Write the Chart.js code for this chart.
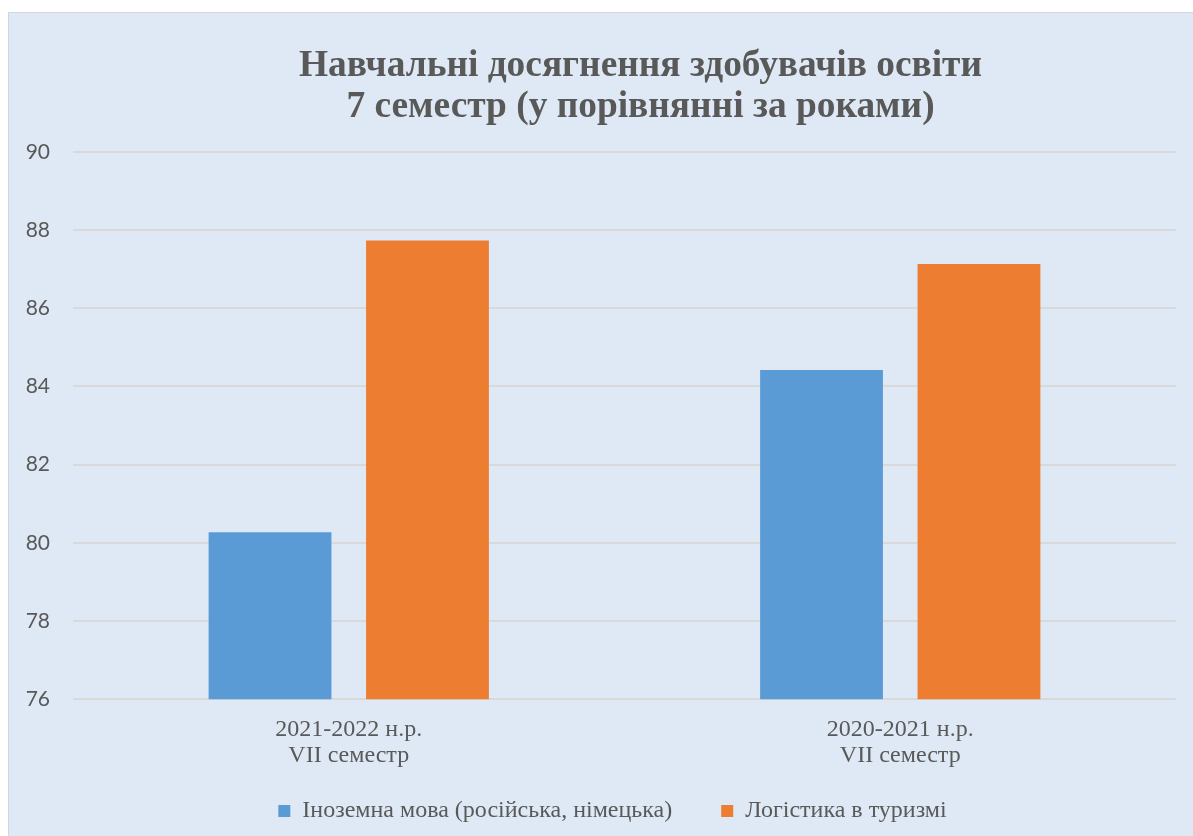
<!DOCTYPE html>
<html>
<head>
<meta charset="utf-8">
<script src="https://cdn.jsdelivr.net/npm/chart.js@4.4.1/dist/chart.umd.min.js"></script>
<style>
  html, body { margin: 0; padding: 0; background: #ffffff; overflow: hidden; }
  #panel {
    position: absolute; left: 8px; top: 12px; width: 1200px; height: 840px;
    background: #dee9f5; border: 1.5px solid #d6d6d6; box-sizing: border-box;
  }
  #wrap { position: absolute; left: 0; top: 0; width: 1193px; height: 836px; }
</style>
</head>
<body>
<div id="panel"></div>
<div id="wrap"><canvas id="myChart" width="1193" height="836"></canvas></div>
<script>
// chart data
const categories = [
  ['2021-2022 н.р.', 'VII семестр'],
  ['2020-2021 н.р.', 'VII семестр']
];
const foreignLang = [80.27, 84.42];
const logistics = [87.73, 87.13];
const seriesNames = ['Іноземна мова (російська, німецька)', 'Логістика в туризмі'];
const yTicks = [76, 78, 80, 82, 84, 86, 88, 90];

const textColor = '#595959';
const serif = '"Liberation Serif", "Times New Roman", serif';

// move title/legend a bit, like the Excel layout
const nudge = {
  id: 'nudge',
  afterLayout(chart) {
    const t = chart.titleBlock;
    t.left += 40; t.right += 40;
    const l = chart.legend;
    l.left += 12; l.right += 12;
    l.top -= 36; l.bottom -= 36;
  }
};

const ctx = document.getElementById('myChart').getContext('2d');
new Chart(ctx, {
  type: 'bar',
  data: {
    labels: categories,
    datasets: [
      { label: seriesNames[0], data: foreignLang, backgroundColor: '#5b9bd5' },
      { label: seriesNames[1], data: logistics, backgroundColor: '#ed7d31' }
    ]
  },
  options: {
    responsive: false,
    animation: false,
    categoryPercentage: 0.571,
    barPercentage: 0.78,
    layout: { padding: { left: 25, right: 17, top: 12, bottom: -33 } },
    scales: {
      x: {
        grid: { display: false, drawTicks: false },
        border: { display: false },
        ticks: {
          color: textColor,
          padding: 17,
          font: { family: serif, size: 24, lineHeight: 1.1 }
        }
      },
      y: {
        min: 76,
        max: 90,
        afterBuildTicks: s => { s.ticks = yTicks.map(v => ({ value: v })); },
        afterFit: s => { s.width = 48; },
        grid: { color: '#d9d9d9', lineWidth: 2, drawTicks: false },
        border: { display: false },
        ticks: {
          color: textColor,
          padding: 23,
          font: { family: 'Lato, Calibri, sans-serif', size: 21 }
        }
      }
    },
    plugins: {
      title: {
        display: true,
        text: ['Навчальні досягнення здобувачів освіти', '7 семестр (у порівнянні за роками)'],
        color: textColor,
        font: { family: serif, size: 37.4, weight: 'bold', lineHeight: 1.12 },
        padding: { top: 33, bottom: 23 }
      },
      legend: {
        position: 'bottom',
        labels: {
          color: textColor,
          boxWidth: 12,
          boxHeight: 12,
          padding: 49,
          font: { family: serif, size: 24 }
        }
      },
      tooltip: { enabled: false }
    }
  },
  plugins: [nudge]
});
</script>
</body>
</html>
